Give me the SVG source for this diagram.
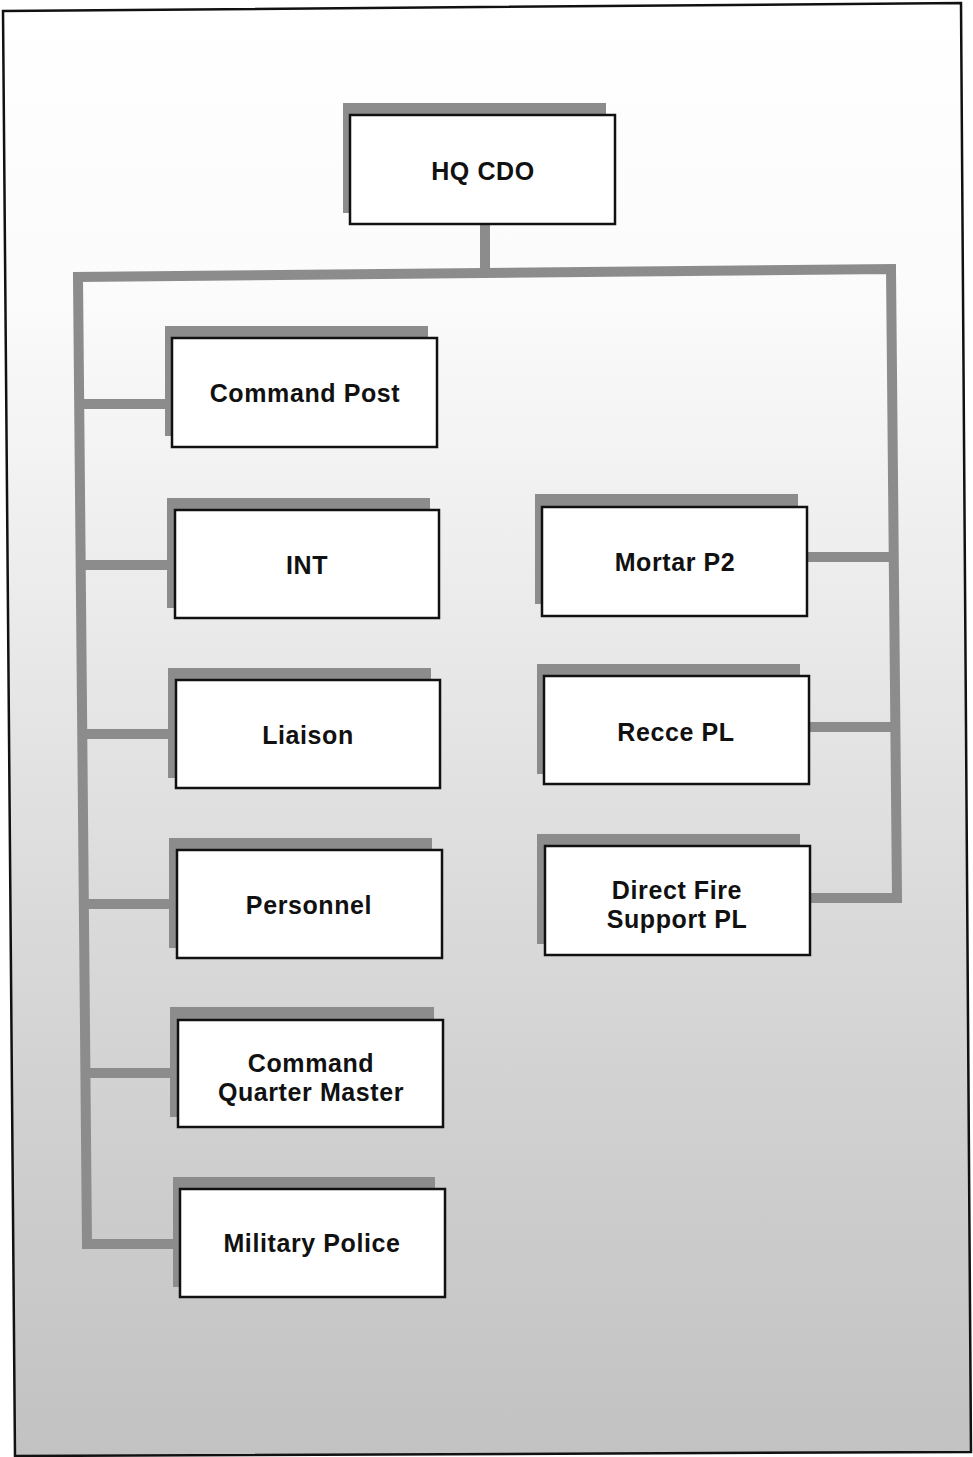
<svg xmlns="http://www.w3.org/2000/svg" width="973" height="1457" viewBox="0 0 973 1457">
<defs>
<linearGradient id="bg" x1="0" y1="0" x2="0" y2="1">
<stop offset="0" stop-color="#ffffff"/>
<stop offset="0.2" stop-color="#fbfbfb"/>
<stop offset="0.4" stop-color="#ececec"/>
<stop offset="0.6" stop-color="#dcdcdc"/>
<stop offset="0.8" stop-color="#cecece"/>
<stop offset="1" stop-color="#c2c2c2"/>
</linearGradient>
</defs>
<style>
.sh{fill:#8c8c8c}
.bx{fill:#ffffff;stroke:#111111;stroke-width:2.5}
.lb{font-family:"Liberation Sans",Arial,sans-serif;font-weight:700;font-size:25px;letter-spacing:0.6px;fill:#111111;text-anchor:middle}
.cn{fill:none;stroke:#8c8c8c;stroke-width:10;stroke-linejoin:miter}
</style>
<rect x="0" y="0" width="973" height="1457" fill="#ffffff"/>
<polygon points="3,11 961,3 971,1452 15,1456" fill="url(#bg)" stroke="#111111" stroke-width="2.5"/>
<g id="connectors">
<path class="cn" d="M485,224 L485,274"/>
<path class="cn" d="M179,1244 L87,1244 L78,277 L891,269 L897,898 L810,898"/>
<path class="cn" d="M79,404 L172,404"/>
<path class="cn" d="M80,565 L175,565"/>
<path class="cn" d="M82,734 L176,734"/>
<path class="cn" d="M83,904 L177,904"/>
<path class="cn" d="M85,1073 L178,1073"/>
<path class="cn" d="M807,557 L894,557"/>
<path class="cn" d="M809,727 L895,727"/>
</g>
<g id="hq-cdo">
<rect class="sh" x="343" y="103" width="263" height="110"/>
<rect class="bx" x="350" y="115" width="265" height="109"/>
<text class="lb" x="483" y="180">HQ CDO</text>
</g>
<g id="command-post">
<rect class="sh" x="165" y="326" width="263" height="110"/>
<rect class="bx" x="172" y="338" width="265" height="109"/>
<text class="lb" x="305" y="402">Command Post</text>
</g>
<g id="int">
<rect class="sh" x="167" y="498" width="263" height="110"/>
<rect class="bx" x="175" y="510" width="264" height="108"/>
<text class="lb" x="307" y="574">INT</text>
</g>
<g id="liaison">
<rect class="sh" x="168" y="668" width="263" height="110"/>
<rect class="bx" x="176" y="680" width="264" height="108"/>
<text class="lb" x="308" y="744">Liaison</text>
</g>
<g id="personnel">
<rect class="sh" x="169" y="838" width="263" height="110"/>
<rect class="bx" x="177" y="850" width="265" height="108"/>
<text class="lb" x="309" y="914">Personnel</text>
</g>
<g id="command-quarter-master">
<rect class="sh" x="170" y="1007" width="264" height="110"/>
<rect class="bx" x="178" y="1020" width="265" height="107"/>
<text class="lb" x="311" y="1072"><tspan x="311" y="1072">Command</tspan><tspan x="311" y="1101">Quarter Master</tspan></text>
</g>
<g id="military-police">
<rect class="sh" x="173" y="1177" width="262" height="110"/>
<rect class="bx" x="180" y="1189" width="265" height="108"/>
<text class="lb" x="312" y="1252">Military Police</text>
</g>
<g id="mortar-p2">
<rect class="sh" x="535" y="494" width="263" height="110"/>
<rect class="bx" x="542" y="507" width="265" height="109"/>
<text class="lb" x="675" y="571">Mortar P2</text>
</g>
<g id="recce-pl">
<rect class="sh" x="537" y="664" width="263" height="110"/>
<rect class="bx" x="544" y="676" width="265" height="108"/>
<text class="lb" x="676" y="741">Recce PL</text>
</g>
<g id="direct-fire-support-pl">
<rect class="sh" x="537" y="834" width="263" height="110"/>
<rect class="bx" x="545" y="846" width="265" height="109"/>
<text class="lb" x="677" y="899"><tspan x="677" y="899">Direct Fire</tspan><tspan x="677" y="928">Support PL</tspan></text>
</g>
</svg>
